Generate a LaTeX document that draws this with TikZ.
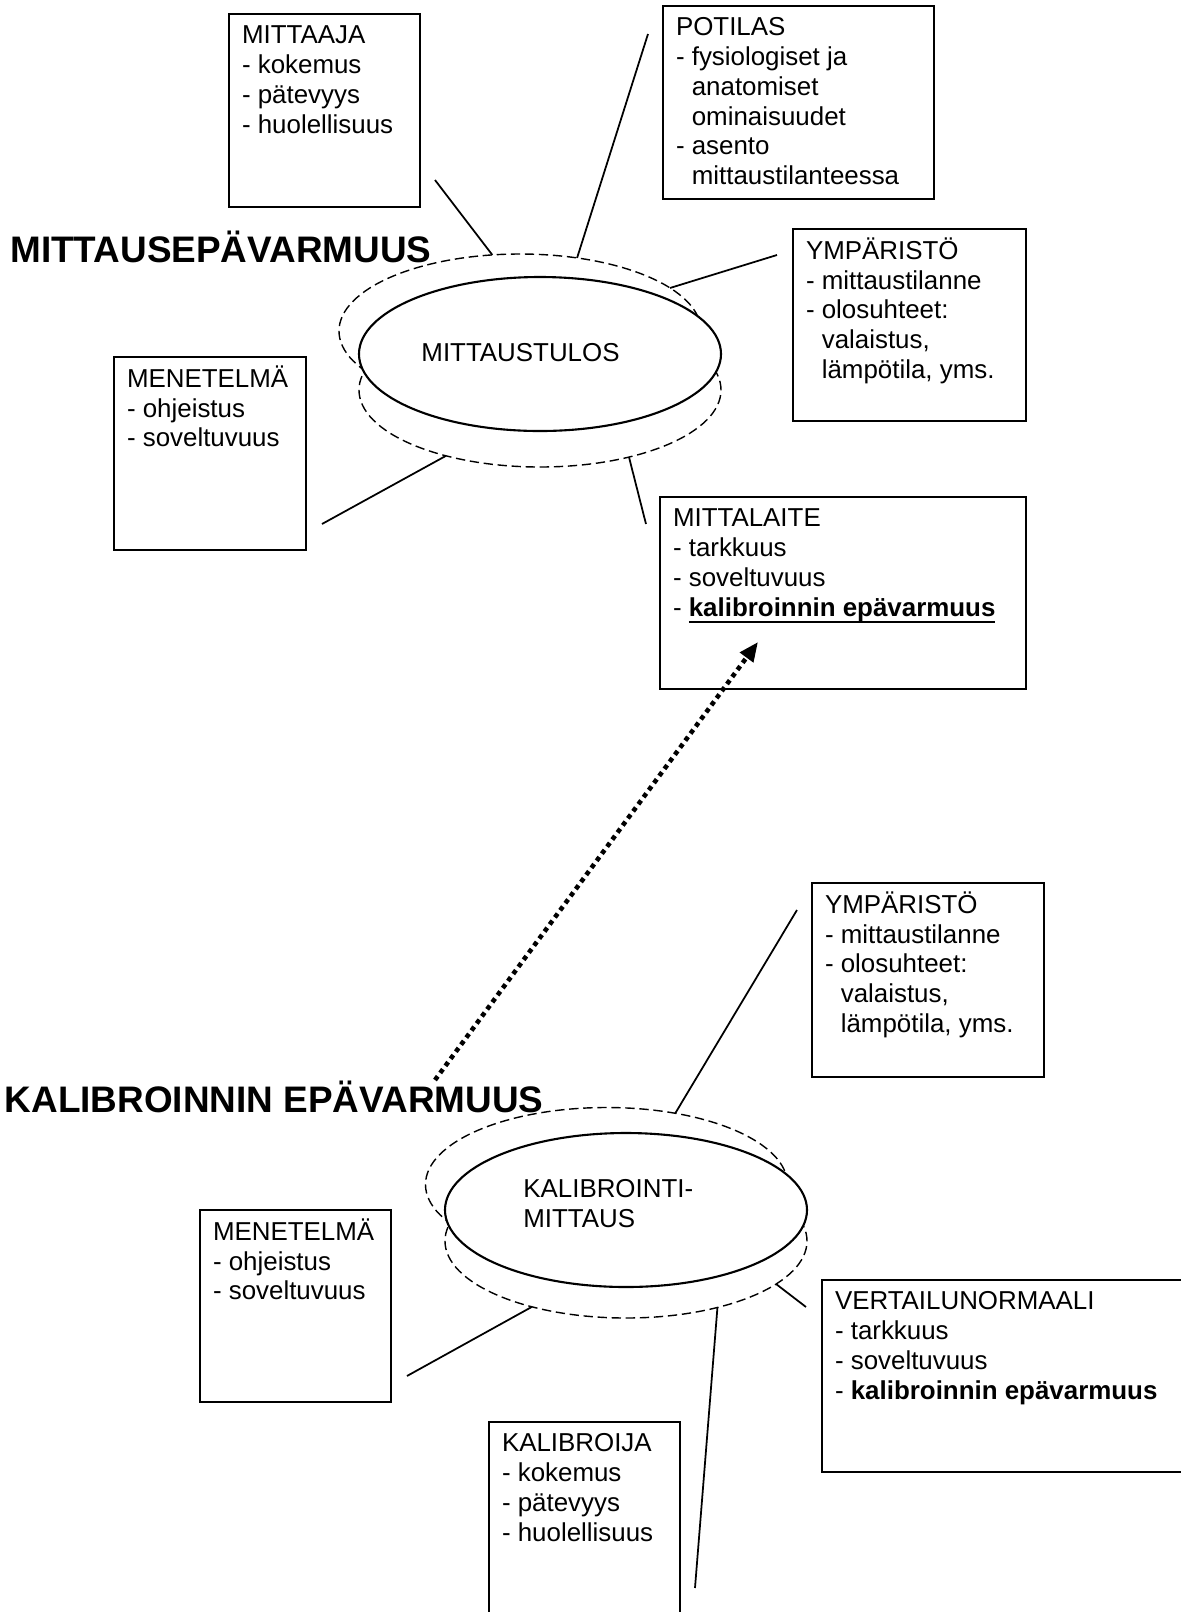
\documentclass[tikz,border=0pt]{standalone}
\usepackage{fontspec}
\setmainfont{Liberation Sans}
\usetikzlibrary{shapes.geometric,arrows.meta}

\newcommand{\boxfont}{\fontsize{14.74pt}{17pt}\selectfont}
\newcommand{\titlefont}{\fontsize{21pt}{25pt}\selectfont\bfseries}
\newcommand{\rivit}[3]{\parbox[t][#2][t]{#1}{\strut#3}}
\newcommand{\sisen}{\hphantom{- }}
\newsavebox{\viivabox}
\newcommand{\alleviivaa}[1]{\sbox\viivabox{#1}\rlap{\rule[-4pt]{\wd\viivabox}{1.2pt}}\usebox\viivabox}

\tikzset{
  infobox/.style={draw, line width=1.2pt, anchor=north west, inner xsep=2.6mm, inner ysep=1.7mm, outer sep=0pt, font=\boxfont},
  tulosellipsi/.style={ellipse, minimum width=7.24cm, minimum height=3.08cm, inner sep=0pt, outer sep=0pt},
  haamu/.style={tulosellipsi, draw, line width=0.8pt, dash pattern=on 5.3pt off 2.7pt},
  kiintea/.style={tulosellipsi, draw, fill=white, line width=1.2pt},
  yhteys/.style={line width=1pt},
  otsikko/.style={anchor=base west, inner sep=0pt, font=\titlefont},
  pisteviiva/.style={line width=2.6pt, dash pattern=on 2.6pt off 2.4pt, -{Triangle[length=11pt,width=9pt]}}
}

\begin{document}
\begin{tikzpicture}[scale=0.2]
\clip (0,0) rectangle (118.1,-161.2);
\node[otsikko] (otsikko1) at (1.0,-26.2) {MITTAUSEPÄVARMUUS};
\node[infobox] (mittaaja) at (22.9,-1.4) {\rivit{33mm}{35.2mm}{MITTAAJA\\- kokemus\\- pätevyys\\- huolellisuus}};
\node[infobox] (potilas) at (66.3,-0.6) {\rivit{49mm}{35.2mm}{POTILAS\\- fysiologiset ja\\\sisen anatomiset\\\sisen ominaisuudet\\- asento\\\sisen mittaustilanteessa}};
\node[infobox] (ymparisto1) at (79.3,-22.9) {\rivit{41.4mm}{35mm}{YMPÄRISTÖ\\- mittaustilanne\\- olosuhteet:\\\sisen valaistus,\\\sisen lämpötila, yms.}};
\node[infobox] (menetelma1) at (11.4,-35.7) {\rivit{33.2mm}{35.2mm}{MENETELMÄ\\- ohjeistus\\- soveltuvuus}};
\node[infobox] (mittalaite) at (66,-49.7) {\rivit{68mm}{35mm}{MITTALAITE\\- tarkkuus\\- soveltuvuus\\- \alleviivaa{\textbf{kalibroinnin epävarmuus}}}};
\node[haamu] (tulosyla) at (52,-33.1) {};
\node[haamu] (tulosala) at (54,-39) {};
\node[kiintea] (tulos) at (54,-35.4) {};
\node[font=\boxfont] (tulosteksti) at (52.05,-35.25) {MITTAUSTULOS};
\coordinate (mittaajapaa) at (43.5,-18);
\coordinate (potilaspaa) at (64.8,-3.4);
\coordinate (ymparisto1paa) at (77.7,-25.5);
\coordinate (menetelma1paa) at (32.2,-52.4);
\coordinate (mittalaitepaa) at (64.6,-52.4);
\draw[yhteys] (mittaajapaa) -- (tulosyla.110);
\draw[yhteys] (potilaspaa) -- (tulosyla.52.5);
\draw[yhteys] (ymparisto1paa) -- (tulosyla.16);
\draw[yhteys] (menetelma1paa) -- (tulosala.215);
\draw[yhteys] (mittalaitepaa) -- (tulosala.323);
\node[otsikko] (otsikko2) at (0.45,-111.2) {KALIBROINNIN EPÄVARMUUS};
\node[infobox] (ymparisto2) at (81.2,-88.3) {\rivit{41.2mm}{35.4mm}{YMPÄRISTÖ\\- mittaustilanne\\- olosuhteet:\\\sisen valaistus,\\\sisen lämpötila, yms.}};
\node[infobox] (menetelma2) at (20,-121) {\rivit{33mm}{35mm}{MENETELMÄ\\- ohjeistus\\- soveltuvuus}};
\node[infobox] (vertailu) at (82.2,-128) {\rivit{68.8mm}{35mm}{VERTAILUNORMAALI\\- tarkkuus\\- soveltuvuus\\- \textbf{kalibroinnin epävarmuus}}};
\node[infobox] (kalibroija) at (48.9,-142.2) {\rivit{33mm}{35.2mm}{KALIBROIJA\\- kokemus\\- pätevyys\\- huolellisuus}};
\node[haamu] (kalyla) at (60.65,-118.45) {};
\node[haamu] (kalala) at (62.6,-124.1) {};
\node[kiintea] (kal) at (62.6,-121) {};
\node[font=\boxfont, align=left, anchor=west, inner sep=0pt] (kalteksti) at (52.3,-120.35) {KALIBROINTI-\\MITTAUS};
\coordinate (ymparisto2paa) at (79.7,-91);
\coordinate (menetelma2paa) at (40.7,-137.6);
\coordinate (vertailupaa) at (80.6,-130.7);
\coordinate (kalibroijapaa) at (69.5,-158.8);
\draw[yhteys] (ymparisto2paa) -- (kalyla.46);
\draw[yhteys] (menetelma2paa) -- (kalala.215.5);
\draw[yhteys] (vertailupaa) -- (kalala.344);
\draw[yhteys] (kalibroijapaa) -- (kalala.324);
\coordinate (nuolialku) at (43.5,-108);
\coordinate (nuolikarki) at (75.8,-64.2);
\draw[pisteviiva] (nuolialku) -- (nuolikarki);
\end{tikzpicture}
\end{document}
